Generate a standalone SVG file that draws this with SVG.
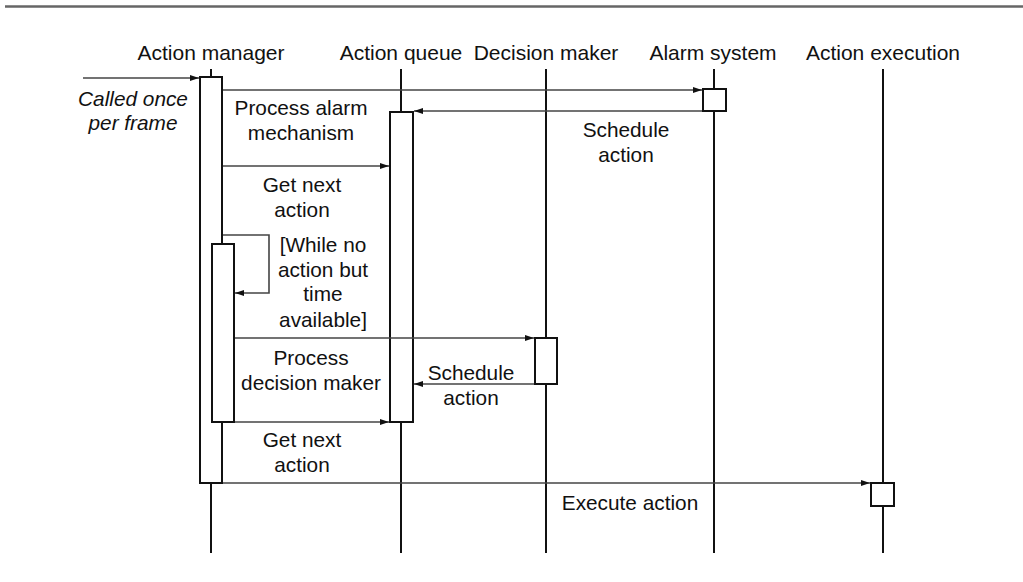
<svg xmlns="http://www.w3.org/2000/svg" width="1023" height="582" viewBox="0 0 1023 582">
<defs>
<marker id="ah" markerWidth="9" markerHeight="6" refX="9" refY="3" orient="auto" markerUnits="userSpaceOnUse">
<path d="M0,0 L9,3 L0,6 z" fill="#111"/>
</marker>
<style>
text{font-family:"Liberation Sans",Arial,sans-serif;font-size:20.8px;fill:#111;text-anchor:middle}
.hd{font-size:21px}
.it{font-style:italic}
.life{stroke:#111;stroke-width:2;fill:none}
.act{stroke:#111;stroke-width:2;fill:#fff}
.msg{stroke:#444;stroke-width:1.6;fill:none;marker-end:url(#ah)}
.rule{stroke:#666;stroke-width:2.5}
</style>
</defs>
<rect width="1023" height="582" fill="#fff"/>
<line class="rule" x1="5" y1="6.5" x2="1023" y2="6.5"/>
<g id="action-manager">
<text class="hd" x="211" y="60">Action manager</text>
<line class="life" x1="211" y1="69" x2="211" y2="553"/>
<rect class="act" x="200" y="77" width="22" height="406"/>
<rect class="act" x="212" y="244" width="22" height="178"/>
</g>
<g id="action-queue">
<text class="hd" x="401" y="60">Action queue</text>
<line class="life" x1="401" y1="69" x2="401" y2="553"/>
<rect class="act" x="390" y="112" width="23" height="310"/>
</g>
<g id="decision-maker">
<text class="hd" x="546" y="60">Decision maker</text>
<line class="life" x1="546" y1="69" x2="546" y2="553"/>
<rect class="act" x="535" y="338" width="22" height="46"/>
</g>
<g id="alarm-system">
<text class="hd" x="713" y="60">Alarm system</text>
<line class="life" x1="714" y1="69" x2="714" y2="553"/>
<rect class="act" x="703" y="89" width="23" height="22"/>
</g>
<g id="action-execution">
<text class="hd" x="883" y="60">Action execution</text>
<line class="life" x1="883" y1="69" x2="883" y2="553"/>
<rect class="act" x="871" y="483" width="23" height="23"/>
</g>
<g id="connectors">
<line class="msg" x1="83" y1="78" x2="199" y2="78"/>
<line class="msg" x1="223" y1="90" x2="702" y2="90"/>
<line class="msg" x1="702" y1="111" x2="414" y2="111"/>
<line class="msg" x1="223" y1="166" x2="389" y2="166"/>
<polyline class="msg" points="223,235 269,235 269,293 235,293"/>
<line class="msg" x1="235" y1="338" x2="534" y2="338"/>
<line class="msg" x1="534" y1="384" x2="414" y2="384"/>
<line class="msg" x1="235" y1="422" x2="389" y2="422"/>
<line class="msg" x1="223" y1="483" x2="870" y2="483"/>
</g>
<g id="labels">
<text class="it" x="133" y="106">Called once</text>
<text class="it" x="133" y="130">per frame</text>
<text x="301" y="115">Process alarm</text>
<text x="301" y="140">mechanism</text>
<text x="626" y="137">Schedule</text>
<text x="626" y="162">action</text>
<text x="302" y="192">Get next</text>
<text x="302" y="217">action</text>
<text x="323" y="252">[While no</text>
<text x="323" y="277">action but</text>
<text x="323" y="301">time</text>
<text x="323" y="327">available]</text>
<text x="311" y="365">Process</text>
<text x="311" y="390">decision maker</text>
<text x="471" y="380">Schedule</text>
<text x="471" y="405">action</text>
<text x="302" y="447">Get next</text>
<text x="302" y="472">action</text>
<text x="630" y="510">Execute action</text>
</g>
</svg>
